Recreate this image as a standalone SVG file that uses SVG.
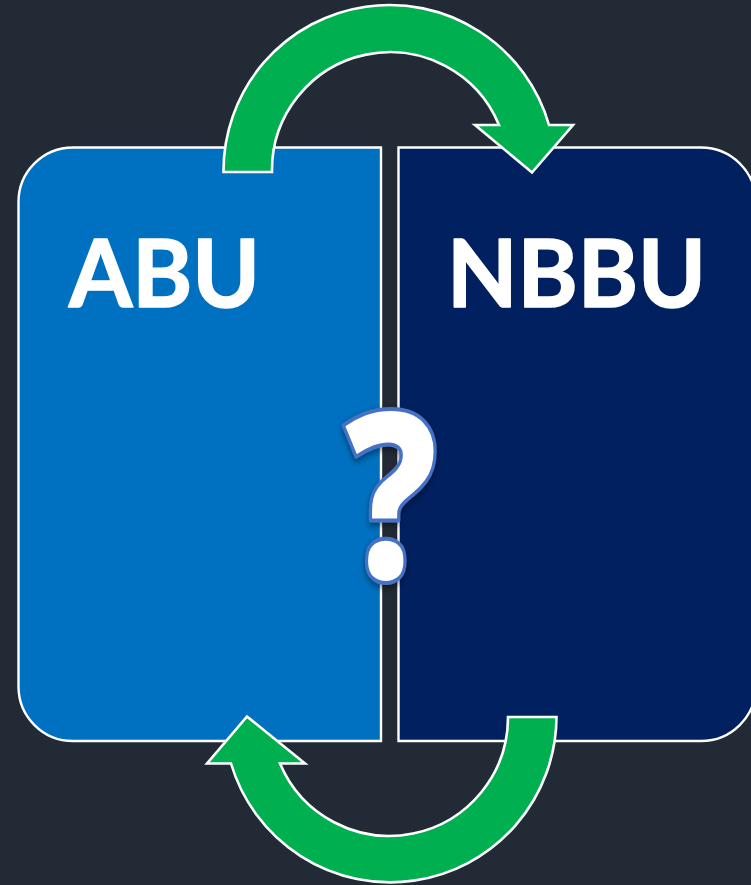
<svg xmlns="http://www.w3.org/2000/svg" width="751" height="885" viewBox="0 0 751 885">
<style>
.panel{stroke:#fff;stroke-width:2.4}
.arrow{fill:#00B050;stroke:#fff;stroke-width:2.6}
.label{font-family:Lato,"Open Sans","Liberation Sans",sans-serif;font-weight:700;font-size:93px;fill:#fff;stroke:#fff;stroke-width:1.6;stroke-linejoin:round}
.q{font-family:"Open Sans",Lato,"Liberation Sans",sans-serif;font-weight:800;font-size:236px;fill:#fff;stroke:#4472C4;stroke-width:4;stroke-linejoin:round;filter:url(#sh)}
</style>
<defs>
<filter id="sh" x="-30%" y="-30%" width="160%" height="160%"><feDropShadow dx="0" dy="3" stdDeviation="3.5" flood-color="#000" flood-opacity="0.45"/></filter>
</defs>
<rect width="751" height="885" fill="#222A35"/>
<g id="abu">
<path class="panel" fill="#0070C0" d="M381 147.500V741H73A54.500 54.500 0 0 1 18.500 686.500V202A54.500 54.500 0 0 1 73 147.500Z"/>
<text class="label" x="69" y="306.500" textLength="191" lengthAdjust="spacingAndGlyphs">ABU</text>
</g>
<g id="nbbu">
<path class="panel" fill="#002060" d="M398.500 147.500V741H701A55 55 0 0 0 756 686.500V202A55 55 0 0 0 701 147.500Z"/>
<text class="label" x="447" y="306.500" textLength="259" lengthAdjust="spacingAndGlyphs">NBBU</text>
</g>
<g id="connectors">
<path class="arrow" d="M223.500 172A166 166 0 0 1 549 125H573L532 172.500L475 125H499A118 118 0 0 0 272 172Z"/>
<path class="arrow" d="M556.500 717A166.200 166.200 0 0 1 231 763.500H207L247 716.500L305 763.500H280A118.700 118.700 0 0 0 508 717Z"/>
</g>
<g id="question">
<text class="q" transform="translate(391 580) scale(.8 1)" text-anchor="middle">?</text>
</g>
</svg>
